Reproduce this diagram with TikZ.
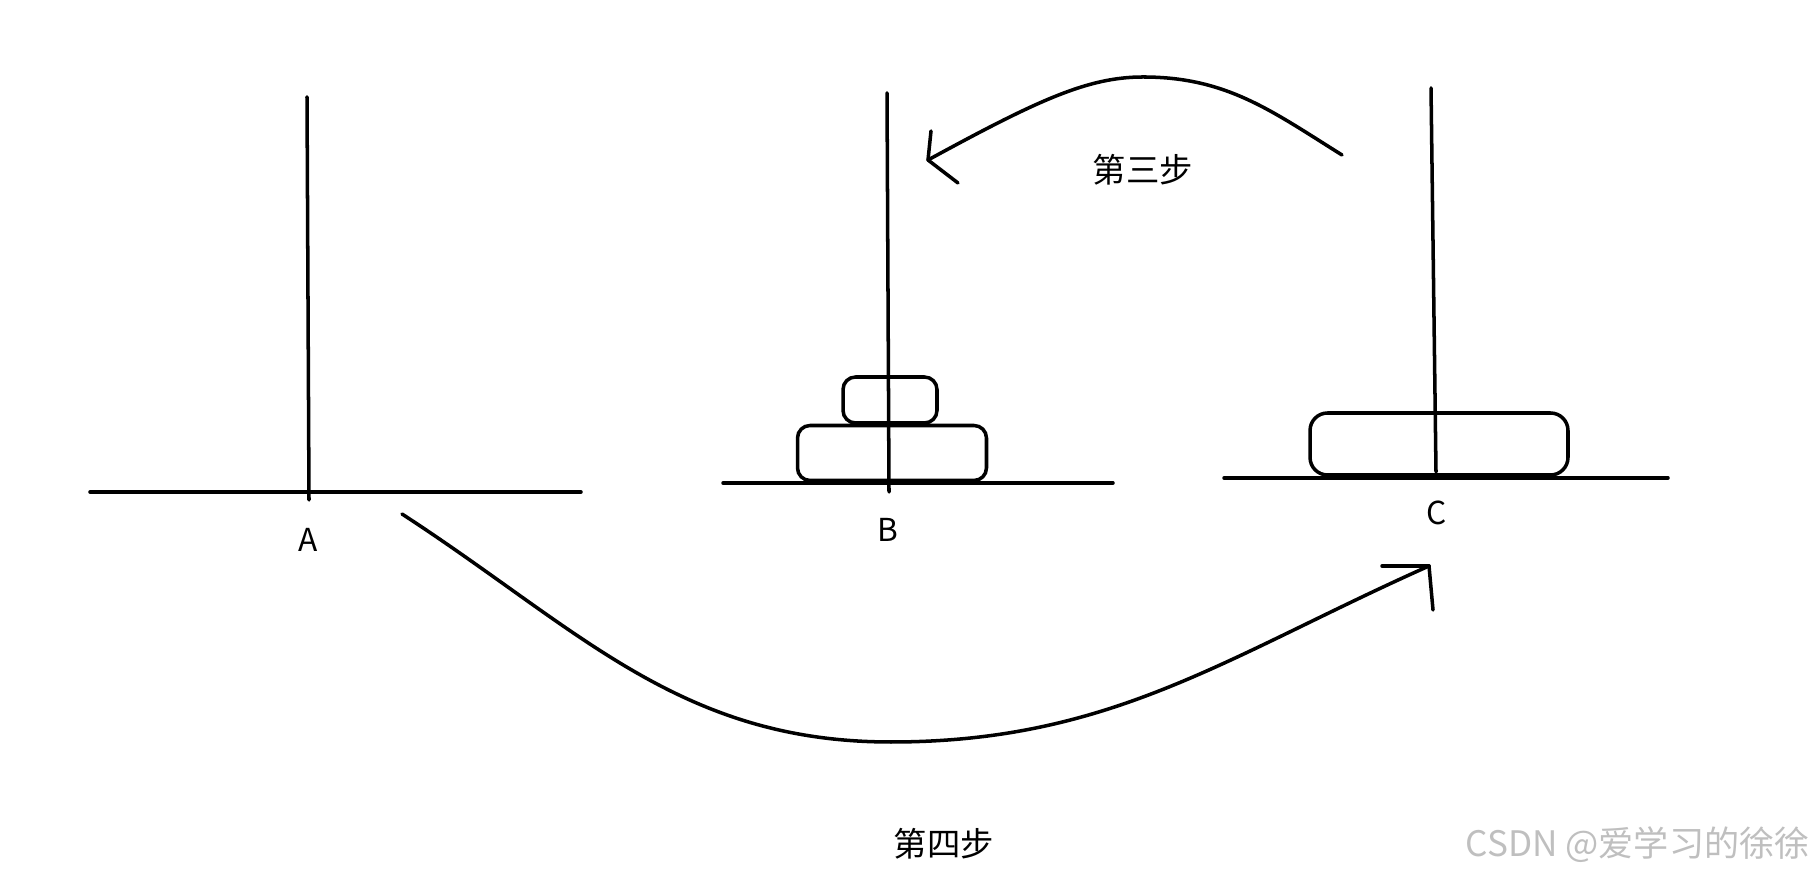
\documentclass[tikz,border=0pt]{standalone}
\usepackage{fontspec}
\setmainfont{Noto Sans CJK SC}
\usetikzlibrary{positioning}

\begin{document}
\begin{tikzpicture}[x=0.02cm, y=0.02cm, line cap=round,
    stroke/.style={line width=2pt},
    disk/.style={draw, line width=2pt, rounded corners=0.25cm, inner sep=0pt},
    tag/.style={font=\fontsize{18}{18}\selectfont, inner sep=0pt}]
  \useasboundingbox (0,0) rectangle (1815,895);

  % disks
  \node[disk, minimum width=1.88cm, minimum height=0.92cm] (smallB) at (890,495) {};
  \node[disk, minimum width=3.78cm, minimum height=1.1cm] (largeB) at (892,442) {};
  \node[disk, rounded corners=0.35cm, minimum width=5.16cm, minimum height=1.24cm] (largeC) at (1439,451) {};

  % bases and pegs
  \draw[stroke] (90,403) -- (581,403);
  \draw[stroke] (307,798) -- (309,395);
  \draw[stroke] (723,412) -- (1113,412);
  \draw[stroke] (887,802) -- (889,403);
  \draw[stroke] (1224,417) -- (1668,417);
  \draw[stroke] (1431,807) -- (1436,423);

  \node[tag] (labelA) at (308,355) {A};
  \node[tag] (labelB) at (888,365) {B};
  \node[tag] (labelC) at (1437,382) {C};

  % step 3: C -> B
  \coordinate (fromC) at (1342,740);
  \coordinate (topthree) at (1143,818);
  \coordinate (tipthree) at (928,735);
  \draw[stroke] (fromC) to[out=148, in=0] (topthree)
    .. controls +(-55,0) and +(110,60) .. (tipthree);
  \draw[stroke] (tipthree) -- (931,764);
  \draw[stroke] (tipthree) -- (958,712);
  \node[tag, font=\fontsize{19}{19}\selectfont] (stepthree) at (1143,725) {第三步};

  % step 4: A -> C
  \coordinate (fromA) at (402,381);
  \coordinate (lowfour) at (891,153);
  \coordinate (tipfour) at (1429,329);
  \draw[stroke] (fromA) to[out=-33, in=180] (lowfour) to[out=0, in=-156] (tipfour);
  \draw[stroke] (tipfour) -- (1382,329);
  \draw[stroke] (tipfour) -- (1433,285);
  \node[tag, font=\fontsize{19}{19}\selectfont] (stepfour) at (944,51) {第四步};

  \node[tag, anchor=east, text=black!25, font=\fontsize{20}{20}\selectfont] (mark) at (1810,50) {CSDN @爱学习的徐徐};
\end{tikzpicture}
\end{document}
